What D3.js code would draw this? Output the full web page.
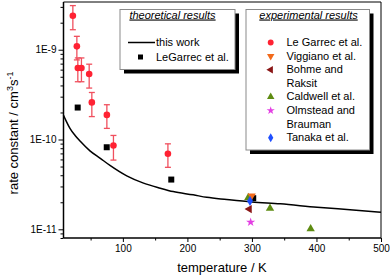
<!DOCTYPE html>
<html><head><meta charset="utf-8">
<script src="https://cdn.jsdelivr.net/npm/d3@7"></script>
<style>
body{margin:0;background:#fff;}
svg{display:block;font-family:"Liberation Sans",Arial,sans-serif;}
</style></head>
<body><svg id="c" width="390" height="277"></svg>
<script>
// ---- data ----
const curveT = [8,12,18,26,34,49,65,80,106,131,158,178,209,230,261,300,344,401,452,500];
const curveK = [1.86e-10,1.61e-10,1.33e-10,1.11e-10,9.55e-11,7.48e-11,6.17e-11,5.15e-11,3.94e-11,3.29e-11,2.87e-11,2.63e-11,2.42e-11,2.27e-11,2.15e-11,2.02e-11,1.92e-11,1.76e-11,1.65e-11,1.55e-11];

const theoSqT = [30,75,175,302];
const theoSqK = [2.27e-10,8.2e-11,3.58e-11,2.22e-11];

const lgT   = [22.5,28.7,30.2,35.8,47.8,51.9,75.2,85.4,169.8];
const lgK   = [2.39e-9,1.09e-9,6.25e-10,6.25e-10,5.36e-10,2.59e-10,1.88e-10,8.57e-11,6.93e-11];
const lgHi  = [3.1e-9,1.41e-9,8.1e-10,8.1e-10,6.9e-10,3.34e-10,2.44e-10,1.11e-10,8.95e-11];
const lgLo  = [1.67e-9,7.7e-10,4.4e-10,4.4e-10,3.74e-10,1.8e-10,1.33e-10,5.9e-11,4.9e-11];

const viggT = [299.6], viggK = [2.36e-11];
const bohmeT = [296], bohmeK = [1.68e-11];
const caldT = [294.4,328,391], caldK = [2.25e-11,1.71e-11,1.01e-11];
const olmT = [298], olmK = [1.20e-11];
const tanT = [297], tanK = [2.07e-11];

const xTicks = [100,200,300,400,500];
const xMinor = [50,150,250,350,450];
const yTicks = [1e-11,1e-10,1e-9];
const yTickLabels = ["1E-11","1E-10","1E-9"];

const expLegend = [
  {lines:["Le Garrec et al."], key:"lg"},
  {lines:["Viggiano et al."], key:"vigg"},
  {lines:["Bohme and","Raksit"], key:"bohme"},
  {lines:["Caldwell et al."], key:"cald"},
  {lines:["Olmstead and","Brauman"], key:"olm"},
  {lines:["Tanaka et al."], key:"tan"}
];

// ---- styles ----
const col = {lg:"#ff2233", err:"#f0505e", vigg:"#f26a1b", bohme:"#8a1616", cald:"#5e8c12", olm:"#e33fe3", tan:"#1f4fff"};

const svg = d3.select("#c");
const L=63.5, R=381, T0=2, B=238;
const x = d3.scaleLinear().domain([8,500]).range([L,R]);
const y = d3.scaleLog().domain([8e-12,3.4e-9]).range([B,T0]);

// frame
svg.append("line").attr("x1",L).attr("x2",R).attr("y1",T0).attr("y2",T0).attr("stroke","#000").attr("stroke-width",1);
svg.append("line").attr("x1",R).attr("x2",R).attr("y1",T0).attr("y2",B).attr("stroke","#000").attr("stroke-width",1);

// x axis
const xa = svg.append("g").attr("transform",`translate(0,${B})`)
  .call(d3.axisBottom(x).tickValues(xTicks).tickSize(4).tickSizeOuter(0).tickPadding(3));
xa.select(".domain").remove();
xa.selectAll("text").attr("font-size",10).attr("font-family","Liberation Sans, Arial, sans-serif");
svg.append("g").attr("transform",`translate(0,${B})`)
  .call(d3.axisBottom(x).tickValues(xMinor).tickSize(2.5).tickFormat(""))
  .select(".domain").remove();

// y axis
const ya = svg.append("g").attr("transform",`translate(${L},0)`)
  .call(d3.axisLeft(y).tickValues(yTicks).tickFormat((d,i)=>yTickLabels[i]).tickSize(5).tickPadding(2));
ya.select(".domain").remove();
ya.selectAll("text").attr("font-size",10).attr("font-family","Liberation Sans, Arial, sans-serif");
const yMinorVals = [];
[1e-12,1e-11,1e-10,1e-9].forEach(b=>{for(let m=2;m<=9;m++){const v=b*m; if(v>=8e-12&&v<=3.4e-9) yMinorVals.push(v);}});
svg.append("g").attr("transform",`translate(${L},0)`)
  .call(d3.axisLeft(y).tickValues(yMinorVals).tickSize(3).tickFormat(""))
  .select(".domain").remove();

// axis lines
svg.append("line").attr("x1",L).attr("x2",R).attr("y1",B).attr("y2",B).attr("stroke","#000").attr("stroke-width",1.5);
svg.append("line").attr("x1",L).attr("x2",L).attr("y1",T0).attr("y2",B).attr("stroke","#000").attr("stroke-width",1.5);

// axis titles
svg.append("text").attr("x",222).attr("y",272).attr("text-anchor","middle").attr("font-size",13).text("temperature / K");
const yl = svg.append("text").attr("transform","translate(18,133) rotate(-90)").attr("text-anchor","middle").attr("font-size",13);
yl.append("tspan").text("rate constant / cm");
yl.append("tspan").attr("font-size",9).attr("dy",-5).text("3");
yl.append("tspan").attr("font-size",13).attr("dy",5).text("s");
yl.append("tspan").attr("font-size",9).attr("dy",-5).text("-1");

// curve
const cdata = curveT.map((t,i)=>[t,curveK[i]]);
svg.append("path").datum(cdata)
  .attr("d",d3.line().x(d=>x(d[0])).y(d=>y(d[1])).curve(d3.curveMonotoneX))
  .attr("fill","none").attr("stroke","#000").attr("stroke-width",1.5);

// theoretical squares
const sq = d3.symbol().type(d3.symbolSquare).size(36);
svg.append("g").selectAll("path").data(theoSqT.map((t,i)=>[t,theoSqK[i]])).join("path")
  .attr("d",sq).attr("transform",d=>`translate(${x(d[0])},${y(d[1])})`).attr("fill","#000");

// error bars
const eg = svg.append("g").attr("stroke",col.err).attr("stroke-width",1.3);
lgT.forEach((t,i)=>{
  const cx=x(t);
  eg.append("line").attr("x1",cx).attr("x2",cx).attr("y1",y(lgHi[i])).attr("y2",y(lgLo[i]));
  eg.append("line").attr("x1",cx-3).attr("x2",cx+3).attr("y1",y(lgHi[i])).attr("y2",y(lgHi[i]));
  eg.append("line").attr("x1",cx-3).attr("x2",cx+3).attr("y1",y(lgLo[i])).attr("y2",y(lgLo[i]));
});
svg.append("g").selectAll("circle").data(lgT.map((t,i)=>[t,lgK[i]])).join("circle")
  .attr("cx",d=>x(d[0])).attr("cy",d=>y(d[1])).attr("r",3.3).attr("fill",col.lg);

// experimental markers
const symDefs = {
  lg:   {type:d3.symbolCircle,size:34,rot:0},
  vigg: {type:d3.symbolTriangle,size:30,rot:180},
  bohme:{type:d3.symbolTriangle,size:30,rot:-90},
  cald: {type:d3.symbolTriangle,size:30,rot:0},
  olm:  {type:d3.symbolStar,size:26,rot:0},
  tan:  {type:d3.symbolDiamond,size:30,rot:0}
};
function drawSet(key,ts,ks){
  const s=symDefs[key];
  svg.append("g").selectAll("path").data(ts.map((t,i)=>[t,ks[i]])).join("path")
    .attr("d",d3.symbol().type(s.type).size(s.size))
    .attr("transform",d=>`translate(${x(d[0])},${y(d[1])}) rotate(${s.rot})`)
    .attr("fill",col[key]);
}
drawSet("cald",caldT,caldK);
drawSet("vigg",viggT,viggK);
drawSet("tan",tanT,tanK);
drawSet("bohme",bohmeT,bohmeK);
drawSet("olm",olmT,olmK);

// legend boxes
function box(x0,y0,x1,y1){
  svg.append("rect").attr("x",x0+4).attr("y",y0+4).attr("width",x1-x0).attr("height",y1-y0).attr("fill","#000");
  svg.append("rect").attr("x",x0).attr("y",y0).attr("width",x1-x0).attr("height",y1-y0).attr("fill","#fff").attr("stroke","#8a8a8a").attr("stroke-width",1);
}
box(120,9.5,235,69.5);
svg.append("text").attr("x",172.5).attr("y",18.5).attr("text-anchor","middle").attr("font-size",11)
  .attr("font-style","italic").attr("text-decoration","underline").text("theoretical results");
svg.append("line").attr("x1",128).attr("x2",155).attr("y1",42.5).attr("y2",42.5).attr("stroke","#000").attr("stroke-width",1.5);
svg.append("text").attr("x",156).attr("y",46).attr("font-size",11).text("this work");
svg.append("path").attr("d",d3.symbol().type(d3.symbolSquare).size(25)).attr("transform","translate(140.5,57)").attr("fill","#000");
svg.append("text").attr("x",156).attr("y",61).attr("font-size",11).text("LeGarrec et al.");

box(246,9.5,369.5,150);
svg.append("text").attr("x",308.5).attr("y",18.5).attr("text-anchor","middle").attr("font-size",11)
  .attr("font-style","italic").attr("text-decoration","underline").text("experimental results");
let row=0;
expLegend.forEach(e=>{
  const by = 46 + row*13.6;
  const s=symDefs[e.key];
  svg.append("path").attr("d",d3.symbol().type(s.type).size(s.size*0.8))
    .attr("transform",`translate(270.7,${by-3.5}) rotate(${s.rot})`).attr("fill",col[e.key]);
  e.lines.forEach((ln,j)=>{
    svg.append("text").attr("x",286.5).attr("y",by+j*13.6).attr("font-size",11).text(ln);
  });
  row += e.lines.length;
});
</script></body></html>
